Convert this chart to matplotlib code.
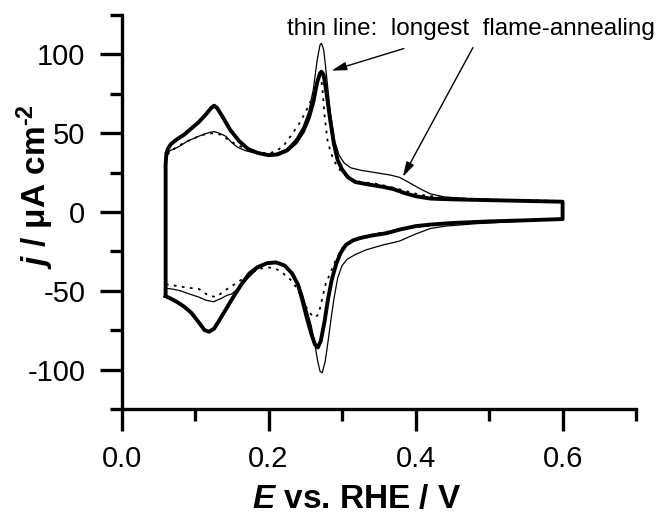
import matplotlib.pyplot as plt

plt.rcParams['font.family'] = ['Liberation Sans', 'DejaVu Sans']
plt.rcParams['axes.unicode_minus'] = False
plt.rcParams['mathtext.fontset'] = 'custom'
plt.rcParams['mathtext.rm'] = 'Liberation Sans:bold'
plt.rcParams['mathtext.bf'] = 'Liberation Sans:bold'
plt.rcParams['mathtext.it'] = 'Liberation Sans:italic:bold'

# thick line: anodic then cathodic sweep (E / V, j / uA cm-2)
thick_E = [0.060, 0.060, 0.061, 0.063, 0.067, 0.075, 0.085, 0.095, 0.105, 0.115, 0.122, 0.126,
           0.130, 0.138, 0.148, 0.160, 0.172, 0.185, 0.200, 0.212, 0.225, 0.237, 0.247, 0.255,
           0.261, 0.266, 0.270, 0.272, 0.275, 0.279, 0.284, 0.289, 0.294, 0.300, 0.308, 0.318,
           0.335, 0.355, 0.370, 0.385, 0.400, 0.420, 0.450, 0.500, 0.550, 0.600,
           0.600, 0.550, 0.500, 0.450, 0.420, 0.400, 0.380, 0.360, 0.340, 0.325, 0.315, 0.305,
           0.298, 0.292, 0.286, 0.281, 0.276, 0.271, 0.267, 0.263, 0.258, 0.252, 0.246, 0.240,
           0.232, 0.222, 0.210, 0.198, 0.185, 0.174, 0.163, 0.152, 0.143, 0.134, 0.126, 0.119,
           0.113, 0.105, 0.095, 0.085, 0.075, 0.065, 0.060]
thick_j = [-53, 30, 37, 40, 43, 46, 49, 53, 57, 62, 66, 67.5,
           66, 60, 52, 45, 40, 37.5, 36, 36.5, 39, 44, 51, 60,
           70, 82, 88, 89, 87, 75, 58, 43, 33, 27, 22, 19,
           17.5, 16, 14.5, 12, 10, 8.5, 8, 7.5, 7, 6.5,
           -4.5, -5.3, -6, -7, -8, -9, -11, -13.5, -15, -16.5, -18, -21,
           -26, -33, -43, -55, -70, -82, -86, -84, -77, -67, -56, -46,
           -39, -34, -32, -32.5, -35, -39, -46, -54, -61, -68, -74, -76,
           -75, -70, -64, -60, -57, -54.5, -53.5]

# thin line: longest flame-annealing
thin_E = [0.060, 0.060, 0.062, 0.066, 0.072, 0.080, 0.090, 0.100, 0.110, 0.120, 0.126, 0.133,
          0.142, 0.150, 0.158, 0.168, 0.180, 0.195, 0.210, 0.225, 0.237, 0.247, 0.255, 0.261,
          0.266, 0.270, 0.272, 0.275, 0.279, 0.284, 0.290, 0.296, 0.303, 0.312, 0.325, 0.345,
          0.365, 0.378, 0.390, 0.405, 0.420, 0.440, 0.470, 0.520, 0.600,
          0.600, 0.540, 0.480, 0.440, 0.420, 0.400, 0.378, 0.355, 0.333, 0.318, 0.307, 0.300,
          0.294, 0.289, 0.285, 0.281, 0.277, 0.273, 0.270, 0.267, 0.263, 0.258, 0.252, 0.246,
          0.240, 0.232, 0.222, 0.210, 0.198, 0.185, 0.172, 0.160, 0.150, 0.143, 0.135, 0.125,
          0.115, 0.105, 0.092, 0.080, 0.070, 0.062, 0.060]
thin_j = [-49, 30, 36, 39, 40, 42, 45, 47, 49, 50.5, 51, 50,
          48, 44, 41, 39, 37.5, 36.5, 37, 40, 46, 54, 64, 78,
          96, 106, 107, 103, 86, 63, 45, 36, 31, 28, 26.5, 25,
          23.5, 22, 19, 15, 11.5, 9.5, 8.5, 7.5, 7,
          -4.5, -6, -7.5, -9, -10.5, -14, -18.5, -21, -24, -27, -30, -34,
          -42, -55, -68, -82, -95, -102, -101, -95, -84, -72, -62, -52,
          -45, -39, -34, -32.5, -33, -36, -42, -48, -52, -53, -55, -57,
          -56, -54, -52, -50, -49, -48.5, -49]

# dotted line
dot_E = [0.060, 0.060, 0.062, 0.067, 0.075, 0.085, 0.095, 0.105, 0.115, 0.126, 0.135, 0.145,
         0.155, 0.170, 0.185, 0.200, 0.212, 0.222, 0.233, 0.243, 0.251, 0.258, 0.263, 0.267,
         0.270, 0.273, 0.276, 0.280, 0.285, 0.292, 0.300, 0.310, 0.325, 0.345, 0.365, 0.385,
         0.405, 0.430, 0.470, 0.530, 0.600,
         0.600, 0.520, 0.450, 0.410, 0.380, 0.350, 0.330, 0.312, 0.300, 0.290, 0.283, 0.278,
         0.273, 0.268, 0.263, 0.258, 0.252, 0.245, 0.238, 0.230, 0.220, 0.210, 0.198, 0.185,
         0.172, 0.160, 0.150, 0.140, 0.129, 0.118, 0.106, 0.090, 0.075, 0.065, 0.060]
dot_j = [-46, 30, 36, 39, 41, 44, 46, 48, 49.5, 50, 49, 46,
         43, 40, 38, 37, 39, 43, 50, 57, 64, 71, 78, 85,
         88, 80, 62, 46, 37, 30, 25, 21, 19, 18, 16, 13.5,
         11, 9.5, 8.5, 7.5, 7,
         -4.5, -6, -7.5, -9, -11, -13.5, -15.5, -18, -23, -32, -40, -45,
         -55, -65, -67, -65, -61, -54, -48, -43, -39, -36, -35, -36.5,
         -40, -44, -47, -50, -54, -53, -49, -48, -47, -46, -46]

fig = plt.figure(figsize=(6.64, 5.17), dpi=100)
ax = fig.add_axes([0.183, 0.209, 0.775, 0.762])

ax.plot(dot_E, dot_j, color='black', lw=1.3, ls=(0, (1.5, 3)))
ax.plot(thin_E, thin_j, color='black', lw=0.9)
ax.plot(thick_E, thick_j, color='black', lw=2.8, solid_joinstyle='round')

ax.set_xlim(0, 0.7)
ax.set_ylim(-125, 125)
ax.set_xticks([0.0, 0.2, 0.4, 0.6])
ax.set_xticks([0.1, 0.3, 0.5, 0.7], minor=True)
ax.set_yticks([-100, -50, 0, 50, 100])
ax.set_yticks([-125, -75, -25, 25, 75, 125], minor=True)
ax.set_xticklabels(['0.0', '0.2', '0.4', '0.6'])

for s in ['top', 'right']:
    ax.spines[s].set_visible(False)
for s in ['left', 'bottom']:
    ax.spines[s].set_linewidth(2.4)

ax.tick_params(which='major', direction='out', length=16, width=2.4, labelsize=21, pad=10)
ax.tick_params(which='minor', direction='out', length=8.5, width=2.4)

ax.set_xlabel(r'$\mathit{E}$ vs. RHE / V', fontsize=24, fontweight='bold')
ax.xaxis.set_label_coords(0.458, -0.19)
ax.set_ylabel(r'$\mathit{j}$ / μA cm$^{\text{-2}}$', fontsize=24, fontweight='bold')
ax.yaxis.set_label_coords(-0.127, 0.565)

ax.text(0.4755, 116, 'thin line:  longest  flame-annealing', fontsize=17.5,
        ha='center', va='center', clip_on=False)
arrow = dict(arrowstyle='-|>,head_length=0.9,head_width=0.25', color='black', lw=1.0,
             shrinkA=0, shrinkB=0)
ax.annotate('', xy=(0.2857, 89.7), xytext=(0.384, 103.7), arrowprops=arrow,
            annotation_clip=False)
ax.annotate('', xy=(0.3827, 22.3), xytext=(0.478, 104.3), arrowprops=arrow,
            annotation_clip=False)

fig.savefig('out.png', dpi=100)
